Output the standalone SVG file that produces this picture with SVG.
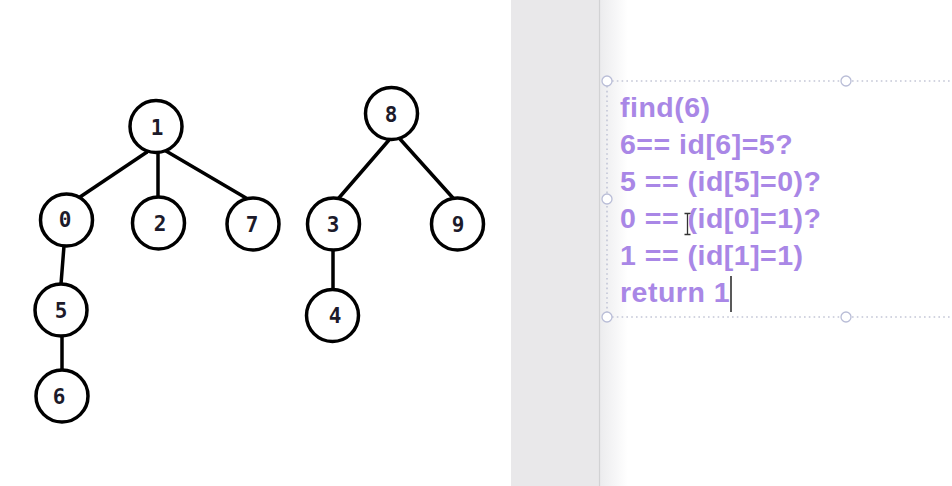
<svg xmlns="http://www.w3.org/2000/svg" width="952" height="486" viewBox="0 0 952 486">
  <defs>
    <linearGradient id="shadow" x1="0" y1="0" x2="1" y2="0">
      <stop offset="0" stop-color="#ececee"/>
      <stop offset="1" stop-color="#ffffff"/>
    </linearGradient>
    <style>
      .node circle { fill: #ffffff; stroke: #000000; stroke-width: 3.5; }
      .node text { font-family: "DejaVu Sans Mono", "Liberation Mono", monospace; font-weight: bold; font-size: 21px; fill: #1c1a2a; text-anchor: middle; }
      .edges line { stroke: #000000; stroke-width: 3.5; stroke-linecap: round; }
      .code { font-family: "Liberation Sans", Arial, sans-serif; font-weight: bold; font-size: 28.5px; letter-spacing: 0.5px; fill: #a987e6; }
      .dots { stroke: #c3c6d6; stroke-width: 1.6; stroke-dasharray: 1.6 3.2; fill: none; }
      .handle { fill: #ffffff; stroke: #b9bdd7; stroke-width: 1.3; }
    </style>
  </defs>

  <!-- backgrounds -->
  <rect x="0" y="0" width="952" height="486" fill="#ffffff"/>
  <rect x="511" y="0" width="88" height="486" fill="#e9e8ea"/>
  <rect x="600" y="0" width="28" height="486" fill="url(#shadow)"/>
  <line x1="599.5" y1="0" x2="599.5" y2="486" stroke="#d2d2d4" stroke-width="1.2"/>

  <!-- connectors -->
  <g class="edges" id="connectors">
    <line x1="147" y1="152" x2="80" y2="197"/>
    <line x1="158" y1="153" x2="158" y2="197"/>
    <line x1="166" y1="151" x2="246" y2="198"/>
    <line x1="64" y1="246" x2="61" y2="284"/>
    <line x1="62" y1="336" x2="62" y2="370"/>
    <line x1="389" y1="140" x2="338" y2="199"/>
    <line x1="400" y1="139" x2="453" y2="198"/>
    <line x1="333" y1="250" x2="333" y2="290"/>
  </g>

  <!-- nodes -->
  <g class="node" id="node-1"><circle cx="156" cy="126.5" r="26"/><text x="157" y="135">1</text></g>
  <g class="node" id="node-0"><circle cx="66.5" cy="220" r="26"/><text x="65" y="227">0</text></g>
  <g class="node" id="node-2"><circle cx="158.5" cy="223" r="26"/><text x="160" y="231">2</text></g>
  <g class="node" id="node-7"><circle cx="253" cy="224" r="26"/><text x="252" y="232">7</text></g>
  <g class="node" id="node-5"><circle cx="61" cy="310" r="26"/><text x="61" y="318">5</text></g>
  <g class="node" id="node-6"><circle cx="62" cy="396" r="26"/><text x="59" y="404">6</text></g>
  <g class="node" id="node-8"><circle cx="391.5" cy="113.5" r="26"/><text x="391" y="122">8</text></g>
  <g class="node" id="node-3"><circle cx="333.5" cy="224" r="26"/><text x="333" y="232">3</text></g>
  <g class="node" id="node-9"><circle cx="457.5" cy="224" r="26"/><text x="458" y="232">9</text></g>
  <g class="node" id="node-4"><circle cx="332.5" cy="315.5" r="26"/><text x="335" y="323">4</text></g>

  <!-- text box -->
  <g id="textbox">
    <line class="dots" x1="612" y1="81" x2="952" y2="81"/>
    <line class="dots" x1="612" y1="317" x2="952" y2="317"/>
    <line class="dots" x1="607" y1="86" x2="607" y2="312"/>
    <circle class="handle" cx="607" cy="81" r="5"/>
    <circle class="handle" cx="846" cy="81" r="5"/>
    <circle class="handle" cx="607" cy="199" r="5"/>
    <circle class="handle" cx="607" cy="317" r="5"/>
    <circle class="handle" cx="846" cy="317" r="5"/>
    <text class="code" x="620" y="117">find(6)</text>
    <text class="code" x="620" y="154">6== id[6]=5?</text>
    <text class="code" x="620" y="191">5 == (id[5]=0)?</text>
    <text class="code" x="620" y="228">0 == (id[0]=1)?</text>
    <text class="code" x="620" y="265">1 == (id[1]=1)</text>
    <text class="code" x="620" y="302">return 1</text>
    <line x1="731" y1="276" x2="731" y2="312" stroke="#222222" stroke-width="1.5"/>
    <path d="M684.5 213.5 h6 M687.5 213.5 v21 M684.5 234.5 h6" stroke="#ffffff" stroke-width="3" fill="none"/>
    <path d="M684.5 213.5 h6 M687.5 213.5 v21 M684.5 234.5 h6" stroke="#333333" stroke-width="1.3" fill="none"/>
  </g>
</svg>
